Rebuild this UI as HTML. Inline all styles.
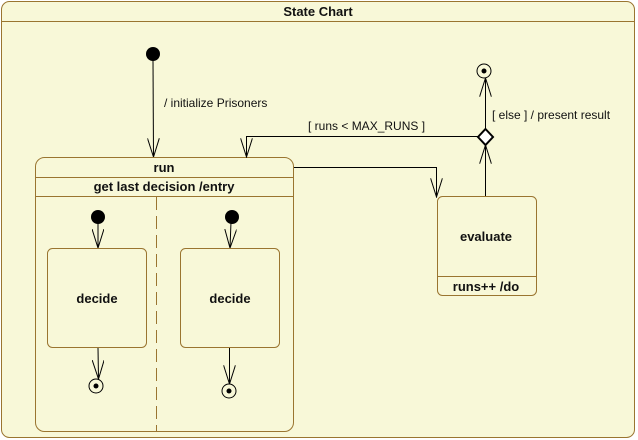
<!DOCTYPE html>
<html><head><meta charset="utf-8"><style>
body{margin:0;background:#fff;}
svg{display:block;font-family:"Liberation Sans",sans-serif;}
.b{font-weight:bold;font-size:13px;fill:#111;}
.l{font-size:12px;fill:#111;}
</style></head><body>
<svg width="638" height="440" viewBox="0 0 638 440">
<defs>
<marker id="a" markerWidth="20" markerHeight="12" refX="19" refY="6" orient="auto" markerUnits="userSpaceOnUse" viewBox="0 0 20 12">
<path d="M0,0 L19,6 L0,12" fill="none" stroke="#000" stroke-width="1"/>
</marker>
</defs>
<rect x="1.5" y="1.5" width="633" height="436" rx="8" fill="#f8f8d8" stroke="#9a7530" stroke-width="1"/>
<line x1="1.5" y1="21.5" x2="634.5" y2="21.5" stroke="#9a7530"/>
<text x="318" y="16" class="b" text-anchor="middle">State Chart</text>

<circle cx="153" cy="54" r="7" fill="#000"/>
<line x1="153" y1="60" x2="153.5" y2="157" stroke="#000" marker-end="url(#a)"/>
<text x="164" y="107" class="l">/ initialize Prisoners</text>

<rect x="35.5" y="157.5" width="258" height="274" rx="9" fill="#f8f8d8" stroke="#9a7530"/>
<line x1="35.5" y1="177.5" x2="293.5" y2="177.5" stroke="#9a7530"/>
<line x1="35.5" y1="196.5" x2="293.5" y2="196.5" stroke="#9a7530"/>
<text x="164" y="172" class="b" text-anchor="middle">run</text>
<text x="164" y="191" class="b" text-anchor="middle">get last decision /entry</text>
<line x1="156.5" y1="197" x2="156.5" y2="431" stroke="#9a7530" stroke-dasharray="13,6"/>

<circle cx="98" cy="217" r="7" fill="#000"/>
<line x1="98" y1="222" x2="98" y2="248" stroke="#000" marker-end="url(#a)"/>
<rect x="47.5" y="248.5" width="99" height="99" rx="5" fill="#f8f8d8" stroke="#9a7530"/>
<text x="97" y="303" class="b" text-anchor="middle">decide</text>
<line x1="98" y1="348" x2="98.5" y2="379" stroke="#000" marker-end="url(#a)"/>
<circle cx="96" cy="386" r="7" fill="#f8f8d8" stroke="#000"/>
<circle cx="96" cy="386" r="2.5" fill="#000"/>

<circle cx="232" cy="217" r="7" fill="#000"/>
<line x1="231" y1="222" x2="230" y2="248" stroke="#000" marker-end="url(#a)"/>
<rect x="180.5" y="248.5" width="99" height="99" rx="5" fill="#f8f8d8" stroke="#9a7530"/>
<text x="230" y="303" class="b" text-anchor="middle">decide</text>
<line x1="229.5" y1="348" x2="229.5" y2="384" stroke="#000" marker-end="url(#a)"/>
<circle cx="229" cy="391" r="7" fill="#f8f8d8" stroke="#000"/>
<circle cx="229" cy="391" r="2.5" fill="#000"/>

<rect x="437.5" y="196.5" width="99" height="99" rx="5" fill="#f8f8d8" stroke="#9a7530"/>
<line x1="437.5" y1="276.5" x2="536.5" y2="276.5" stroke="#9a7530"/>
<text x="486" y="241" class="b" text-anchor="middle">evaluate</text>
<text x="486" y="291" class="b" text-anchor="middle">runs++ /do</text>

<polyline points="294,167.5 436.5,167.5 436.5,197" fill="none" stroke="#000" marker-end="url(#a)"/>

<line x1="485.5" y1="196" x2="485.5" y2="145" stroke="#000" marker-end="url(#a)"/>
<path d="M485.5,129 L493,137 L485.5,145 L478,137 Z" fill="#fff" stroke="#000" stroke-width="2"/>
<line x1="485.5" y1="129" x2="485.5" y2="78" stroke="#000" marker-end="url(#a)"/>
<circle cx="484" cy="71" r="7" fill="#f8f8d8" stroke="#000"/>
<circle cx="484" cy="71" r="2.5" fill="#000"/>
<text x="492" y="119" class="l">[ else ] / present result</text>

<polyline points="478,136.5 246.5,136.5 246.5,157" fill="none" stroke="#000" marker-end="url(#a)"/>
<text x="308" y="130" class="l">[ runs &lt; MAX_RUNS ]</text>
</svg>
</body></html>
